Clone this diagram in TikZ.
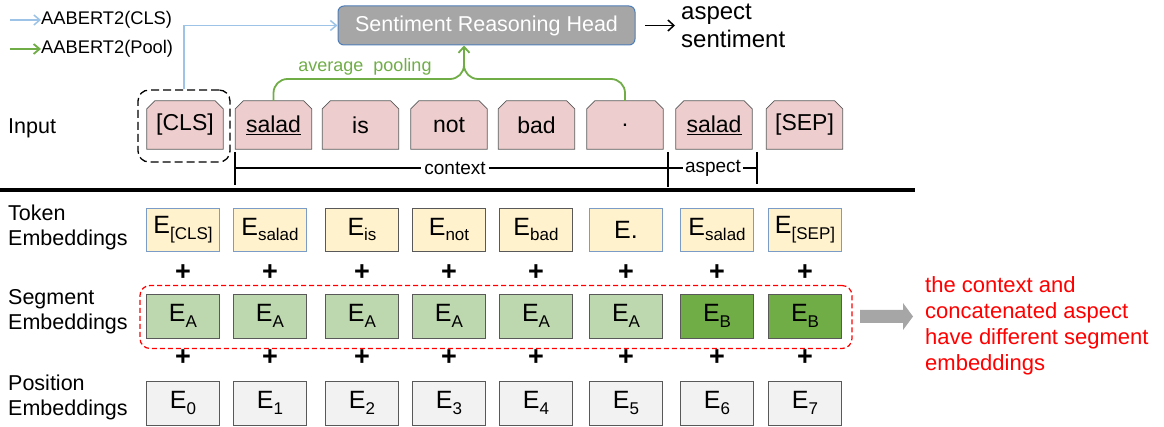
\documentclass[tikz,border=0pt]{standalone}
\usepackage{fontspec}
\setmainfont{Liberation Sans}
\usetikzlibrary{arrows.meta}
\definecolor{pinkf}{HTML}{EDCDCD}
\definecolor{tokf}{HTML}{FFF2CC}
\definecolor{segl}{HTML}{BDD7AE}
\definecolor{segd}{HTML}{70AD47}
\definecolor{posf}{HTML}{F2F2F2}
\definecolor{bbord}{HTML}{7A9CC6}
\definecolor{gbord}{HTML}{595959}
\definecolor{larrow}{HTML}{9DC3E6}
\definecolor{grarrow}{HTML}{70AD47}
\definecolor{srhf}{HTML}{A6A6A6}
\definecolor{srhb}{HTML}{4F7DB8}
\definecolor{bigarrow}{HTML}{A6A6A6}
\newcommand{\fs}[2]{\fontsize{#1}{#2}\selectfont}
\newcommand{\sbs}[1]{\raisebox{-0.45ex}{\fs{17}{17}#1}}
\pgfdeclarelayer{bg}
\pgfsetlayers{bg,main}
\newcommand{\chamf}[1]{%
  \begin{pgfonlayer}{bg}
  \draw[draw=gbord, fill=pinkf, line width=0.8pt] (#1.south west) -- ([yshift=-8pt]#1.north west) -- ([xshift=8pt]#1.north west)
    -- ([xshift=-8pt]#1.north east) -- ([yshift=-8pt]#1.north east) -- (#1.south east) -- cycle;
  \end{pgfonlayer}}
\begin{document}
\begin{tikzpicture}[x=1pt,y=-1pt,
  inbox/.style={rectangle, minimum width=76pt, minimum height=48pt, inner sep=0pt, font=\fs{23}{23}},
  emb/.style={rectangle, minimum width=73pt, minimum height=43pt, inner sep=0pt, font=\fs{25}{25}},
  tokb/.style={emb, fill=tokf, draw=bbord},
  tokg/.style={emb, fill=tokf, draw=gbord},
  segA/.style={emb, fill=segl, draw=gbord, minimum height=44pt},
  segB/.style={emb, fill=segd, draw=gbord, minimum height=44pt},
  posb/.style={emb, fill=posf, draw=gbord, minimum height=44pt},
  lab/.style={anchor=west, align=left, inner sep=0pt, font=\fs{21.5}{25}},
  plus/.style={font=\fs{27}{27}\bfseries, inner sep=0pt},
  bluearr/.style={draw=larrow, line width=1.5pt, -{Straight Barb[length=6pt,width=10pt]}},
  greenarr/.style={draw=grarrow, line width=1.8pt, rounded corners=14pt},
  brk/.style={draw=black, line width=2pt}
]
\useasboundingbox (0,0) rectangle (1164,427);

% legend
\node[anchor=west, inner sep=0pt, font=\fs{18.3}{18}] (leg1) at (41,20) {AABERT2(CLS)};
\node[anchor=west, inner sep=0pt, font=\fs{18.3}{18}] (leg2) at (41,49) {AABERT2(Pool)};
\coordinate (l1s) at (10,20);
\coordinate (l2s) at (10,49);
\draw[bluearr] (l1s) -- (leg1.west);
\draw[draw=grarrow, line width=1.8pt, -{Straight Barb[length=6pt,width=10pt]}] (l2s) -- (leg2.west);

% head
\node[rectangle, rounded corners=6pt, minimum width=297pt, minimum height=39pt, fill=srhf, draw=srhb,
  line width=1pt, text=white, font=\fs{21.5}{21.5}] (srh) at (486.5,25.5) {Sentiment Reasoning Head};
\node[anchor=west, align=left, inner sep=0pt, font=\fs{24}{28}] (out) at (681,26) {aspect\\sentiment};
\coordinate (oa) at (645,25.5);
\draw[line width=1.5pt, -{Straight Barb[length=6pt,width=11pt]}, shorten >=6pt] (oa) -- (out.west |- oa);

% input row
\node[lab] (linput) at (8,128) {Input};
\node[inbox] (i1) at (185,125) {[CLS]};
\node[inbox] (i2) at (273.5,125) {\underline{salad}};
\node[inbox] (i3) at (360.5,125) {is};
\node[inbox] (i4) at (449,125) {not};
\node[inbox] (i5) at (536.5,125) {bad};
\node[inbox] (i6) at (625,125) {.};
\node[inbox] (i7) at (714,125) {\underline{salad}};
\node[inbox] (i8) at (804.5,125) {[SEP]};
\foreach \n in {i1,i2,i3,i4,i5,i6,i7,i8} {\chamf{\n}}
\node[rectangle, rounded corners=11pt, draw=black, line width=1.3pt,
  dash pattern=on 8pt off 4pt, minimum width=92pt, minimum height=72pt] (clsgrp) at (184,126) {};

% blue arrow
\draw[bluearr] (clsgrp.north) |- (srh.west);
% green pooling
\coordinate (tip) at ([xshift=-22.5pt]srh.south);
\draw[greenarr] (i2.north) -- (i2.north |- 0,79) -- (tip |- 0,79) -- ([yshift=-12pt]tip);
\draw[greenarr, -{Straight Barb[length=6pt,width=11pt]}] (i6.north) -- (i6.north |- 0,79) -- (tip |- 0,79) -- (tip);
\node[text=grarrow, font=\fs{18}{18}, inner sep=0pt] (avg) at (365,67) {average\ \ pooling};

% context / aspect
\coordinate (c0a) at (235,152); \coordinate (c0b) at (235,185);
\coordinate (c1a) at (668,152); \coordinate (c1b) at (668,187);
\coordinate (c2a) at (757,152); \coordinate (c2b) at (757,184);
\draw[brk] (c0a) -- (c0b);
\draw[brk] (c1a) -- (c1b);
\draw[brk] (c2a) -- (c2b);
\node[font=\fs{19}{19}, inner sep=3pt] (ctx) at (455,168) {context};
\node[font=\fs{19}{19}, inner sep=2pt] (asp) at (713,168) {aspect};
\draw[brk] (c0a |- ctx) -- (ctx.west);
\draw[brk] (ctx.east) -- (c1a |- ctx);
\draw[brk] (c1a |- asp) -- (asp.west);
\draw[brk] (asp.east) -- (c2a |- asp);

% separator
\coordinate (sepL) at (0,190);
\coordinate (sepR) at (915,190);
\draw[line width=3.5pt] (sepL) -- (sepR);

% token embeddings
\node[lab] (ltok) at (8,227.5) {Token\\Embeddings};
\node[tokb] (t1) at (183,229.5) {E\sbs{[CLS]}};
\node[tokb] (t2) at (270,229.5) {E\sbs{salad}};
\node[tokg] (t3) at (362,229.5) {E\sbs{is}};
\node[tokg] (t4) at (449,229.5) {E\sbs{not}};
\node[tokg] (t5) at (536,229.5) {E\sbs{bad}};
\node[tokb] (t6) at (626,229.5) {E.};
\node[tokb] (t7) at (717,229.5) {E\sbs{salad}};
\node[tokb] (t8) at (805,229.5) {E\sbs{[SEP]}};

% plus rows
\foreach \x [count=\i] in {183,270,362,449,536,626,717,805} {
  \node[plus] (pa\i) at (\x,273) {+};
  \node[plus] (pb\i) at (\x,358) {+};
}

% segment embeddings
\node[lab] (lseg) at (8,311.5) {Segment\\Embeddings};
\node[segA] (s1) at (183,316) {E\sbs{A}};
\node[segA] (s2) at (270,316) {E\sbs{A}};
\node[segA] (s3) at (362,316) {E\sbs{A}};
\node[segA] (s4) at (449,316) {E\sbs{A}};
\node[segA] (s5) at (536,316) {E\sbs{A}};
\node[segA] (s6) at (626,316) {E\sbs{A}};
\node[segB] (s7) at (717,316) {E\sbs{B}};
\node[segB] (s8) at (805,316) {E\sbs{B}};
\node[rectangle, rounded corners=10pt, draw=red, line width=1.2pt, dash pattern=on 5pt off 3pt,
  minimum width=712pt, minimum height=63pt] (segbox) at (496,317) {};

% gray arrow
\fill[bigarrow] (860,310) -- (903,310) -- (903,303) -- (913,316.5) -- (903,330) -- (903,323) -- (860,323) -- cycle;
\node[anchor=north west, align=left, inner sep=0pt, text=red, font=\fs{22}{26}] (note) at (925,276)
  {the context and\\concatenated aspect\\have different segment\\embeddings};

% position embeddings
\node[lab] (lpos) at (8,397.5) {Position\\Embeddings};
\foreach \x [count=\i from 0] in {183,270,362,449,536,626,717,805} {
  \node[posb] (p\i) at (\x,403) {E\sbs{\i}};
}
\end{tikzpicture}
\end{document}
